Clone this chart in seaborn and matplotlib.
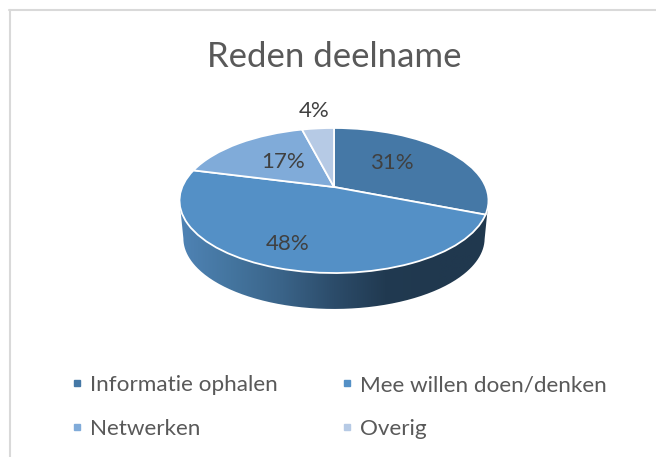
import numpy as np
import seaborn as sns
import matplotlib.pyplot as plt
from matplotlib.lines import Line2D
from matplotlib.patches import PathPatch
from matplotlib.path import Path
from matplotlib.transforms import Transform

categories = ["Informatie ophalen", "Mee willen doen/denken", "Netwerken", "Overig"]
shares = [31, 48, 17, 4]
title = "Reden deelname"

slice_colors = ["#4578A6", "#5490C6", "#80ABD9", "#B6CAE5"]
wall_colors = ["#4F83B5", "#44759F", "#3A6388", "#2C4C6A", "#213A51", "#20384E", "#20384E"]
# pixel spots of the percent labels
label_spots = [(392, 163), (288, 244), (283, 162), (314, 111)]

sns.set_theme(style="white")
plt.rcParams["font.family"] = ["Lato", "DejaVu Sans"]


class TiltedPie(Transform):
    # unit circle -> tilted disc in pixel coordinates
    input_dims = 2
    output_dims = 2
    is_separable = False

    def __init__(self, cx=334, cy=187, b=151.8, a=70.0, k=0.186, scale=1.0, drop=0.0):
        super().__init__()
        self.cx, self.cy, self.b, self.a, self.k = cx, cy, b, a, k
        self.scale, self.drop = scale, drop

    def transform_non_affine(self, values):
        x, y = values[:, 0], values[:, 1]
        w = 1 + self.k * y
        px = self.cx + self.scale * self.b * x / w
        py = self.cy + self.drop - self.scale * self.a * y / w
        return np.column_stack([px, py])


fig = plt.figure(figsize=(6.56, 4.57), dpi=100)
ax = fig.add_axes([0, 0, 1, 1])

top = TiltedPie()
bottom = TiltedPie(scale=0.975, drop=38.1)

wedges, _, pct = ax.pie(shares, colors=slice_colors, startangle=90, counterclock=False,
                        autopct="%.0f%%", radius=1,
                        wedgeprops=dict(edgecolor="white", linewidth=1.3),
                        textprops=dict(color="#404040", fontsize=16))
for w in wedges:
    w.set_transform(top + ax.transData)
    w.set_zorder(3)
for t, spot in zip(pct, label_spots):
    t.set_position(spot)
    t.set_zorder(4)

# side wall of the disc, gradient clipped to the area between the two rims
# the rims are widest where sin(theta) = -k
edge = np.arcsin(top.k)
theta = np.linspace(np.pi + edge, 2 * np.pi - edge, 240)
rim = np.column_stack([np.cos(theta), np.sin(theta)])
wall = np.vstack([top.transform(rim), bottom.transform(rim)[::-1]])
wall_patch = PathPatch(Path(wall), transform=ax.transData, facecolor="none", edgecolor="none")
ax.add_patch(wall_patch)
cmap = sns.blend_palette(wall_colors, as_cmap=True)
img = ax.imshow(np.linspace(0, 1, 256)[None, :], cmap=cmap, aspect="auto",
                extent=(179, 489, 320, 190), zorder=1)
img.set_clip_path(wall_patch)

ax.set_aspect("auto")
ax.set_xlim(0, 656)
ax.set_ylim(457, 0)
ax.axis("off")

# chart frame, only left and top are in the crop
fig.add_artist(Line2D([9.5 / 656, 9.5 / 656], [0, 1 - 10 / 457], color="#D9D9D9", lw=1.5))
fig.add_artist(Line2D([9 / 656, 1], [1 - 10 / 457, 1 - 10 / 457], color="#D9D9D9", lw=1.5))

fig.text(334 / 656, 1 - 57 / 457, title, ha="center", va="center", fontsize=25, color="#595959")

handles = [Line2D([], [], marker="s", ls="none", ms=5, color=c) for c in slice_colors]
# legend fills row by row in the reference
order = [0, 2, 1, 3]
leg = fig.legend([handles[i] for i in order], [categories[i] for i in order], ncol=2,
                 loc="upper left", bbox_to_anchor=(69 / 656, 1 - 375 / 457), frameon=False,
                 fontsize=16.2, labelcolor="#595959", handlelength=0.7, handletextpad=0.23,
                 columnspacing=2.72, labelspacing=1.05, borderpad=0, borderaxespad=0)

fig.savefig("out.png", dpi=100, facecolor="white")
